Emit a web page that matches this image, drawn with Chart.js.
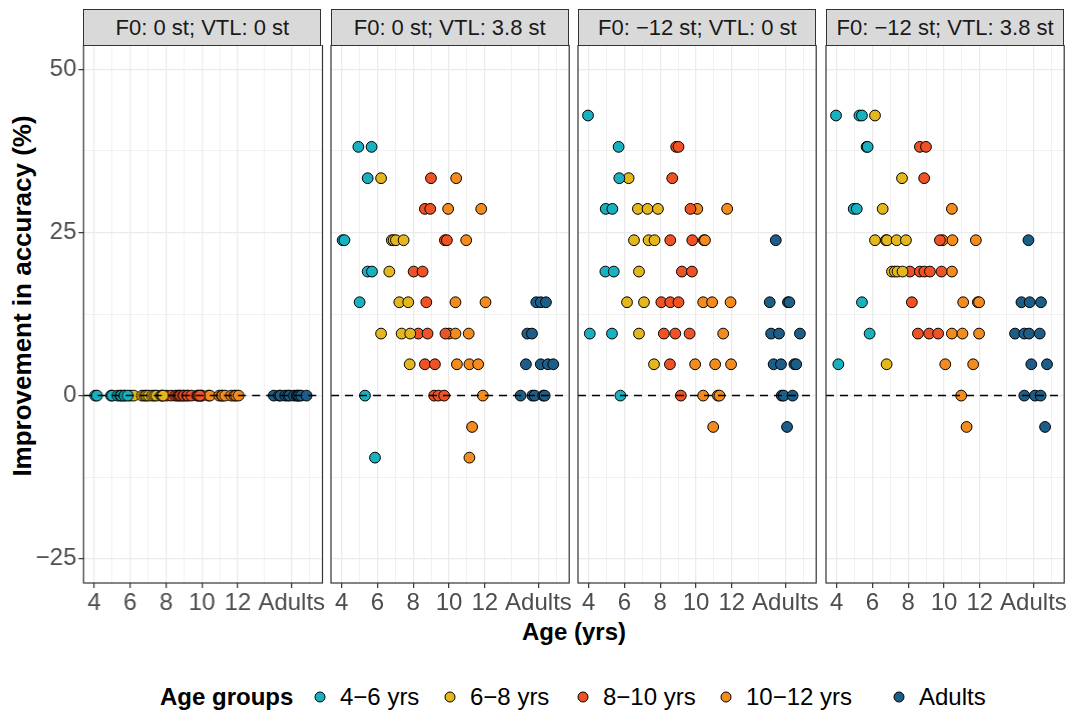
<!DOCTYPE html>
<html>
<head>
<meta charset="utf-8">
<script src="https://cdn.jsdelivr.net/npm/chart.js@4"></script>
<style>
  body { margin: 0; background: #fff; font-family: "Liberation Sans", Arial, sans-serif; }
  #wrap { position: relative; width: 1069px; height: 712px; overflow: hidden; }
  .panel { position: absolute; top: 45px; height: 580px; }
  .strip { position: absolute; top: 9px; height: 37px; background: #d9d9d9; border: 1.2px solid #333;
           box-sizing: border-box; font-size: 22px; color: #1a1a1a; text-align: center; line-height: 35px; white-space: nowrap; }
  #ytitle { position: absolute; left: 22px; top: 296px; transform: translate(-50%, -50%) rotate(-90deg);
            font-weight: bold; font-size: 26px; white-space: nowrap; }
  #xtitle { position: absolute; left: 574px; top: 632px; transform: translate(-50%, -50%);
            font-weight: bold; font-size: 24px; white-space: nowrap; }
  .leg { position: absolute; top: 697px; transform: translateY(-50%); font-size: 24px; white-space: nowrap; color: #000; }
  .key { position: absolute; top: 697px; width: 9px; height: 9px; border-radius: 50%; border: 1px solid #000;
         transform: translate(-50%, -50%); }
</style>
</head>
<body>
<div id="wrap">
  <div id="ytitle">Improvement in accuracy (%)</div>
  <div id="xtitle">Age (yrs)</div>
</div>
<script>
// facets
const facets = ["F0: 0 st; VTL: 0 st", "F0: 0 st; VTL: 3.8 st", "F0: \u221212 st; VTL: 0 st", "F0: \u221212 st; VTL: 3.8 st"];
const groups = ["4\u22126 yrs", "6\u22128 yrs", "8\u221210 yrs", "10\u221212 yrs", "Adults"];
const groupColors = ["#19b1bf", "#e4b71f", "#ef5224", "#f38b1f", "#1c5e87"];

const xTickVals = [4, 5, 6, 7, 8, 9, 10, 11, 12, 13.5, 15, 16];
const xTickLabels = ["4", "", "6", "", "8", "", "10", "", "12", "", "Adults", ""];
const yTickVals = [-25, -12.5, 0, 12.5, 25, 37.5, 50];
const yTickLabels = ["\u221225", "", "0", "", "25", "", "50"];

// F0: 0 st; VTL: 0 st  (everyone at 0) -- ages per group
const base_4to6   = [4.05, 4.15, 4.93, 5.0, 5.3, 5.45, 5.5, 5.67, 5.69, 5.86];
const base_6to8   = [6.0, 6.2, 6.66, 6.8, 6.9, 7.03, 7.22, 7.35, 7.46, 7.72, 7.8, 7.83];
const base_8to10  = [8.02, 8.28, 8.52, 8.65, 8.73, 8.8, 8.95, 8.99, 9.17, 9.21, 9.41, 9.73, 9.8, 9.88];
const base_10to12 = [9.95, 10.0, 10.36, 10.44, 10.96, 11.1, 11.14, 11.29, 11.63, 11.8, 11.89, 12.04];
const base_adults = [14.0, 14.3, 14.38, 14.64, 14.79, 14.88, 15.13, 15.27, 15.35, 15.42, 15.53, 15.83];

// F0: 0 st; VTL: 3.8 st  [age, improvement]
const vtl_4to6 = [[4.93,38.1],[5.67,38.1],[5.45,33.3],[4.05,23.8],[4.15,23.8],[5.45,19.0],[5.69,19.0],[5.0,14.3],[5.3,0],[5.86,-9.5]];
const vtl_6to8 = [[6.2,33.3],[6.8,23.8],[6.9,23.8],[7.03,23.8],[7.46,23.8],[6.66,19.0],[7.22,14.3],[7.72,14.3],[6.2,9.5],[7.35,9.5],[7.83,9.5],[7.8,4.8]];
const vtl_8to10 = [[8.99,33.3],[8.65,28.6],[8.95,28.6],[9.77,23.8],[9.88,23.8],[8.02,19.0],[8.52,19.0],[8.73,14.3],[8.28,9.5],[8.8,9.5],[9.8,9.5],[8.65,4.8],[9.21,4.8],[9.17,0],[9.41,0],[9.73,0]];
const vtl_10to12 = [[10.4,33.3],[9.95,28.6],[11.8,28.6],[10.96,23.8],[10.36,14.3],[12.04,14.3],[10.0,9.5],[10.36,9.5],[11.1,9.5],[10.44,4.8],[11.14,4.8],[11.63,4.8],[11.89,0],[11.29,-4.8],[11.14,-9.5]];
const vtl_adults = [[14.88,14.3],[15.13,14.3],[15.42,14.3],[14.38,9.5],[14.64,9.5],[14.3,4.8],[15.13,4.8],[15.53,4.8],[15.83,4.8],[14.0,0],[14.66,0],[14.79,0],[15.27,0],[15.35,0]];

// F0: -12 st; VTL: 0 st
const f0_4to6 = [[3.96,42.9],[5.67,38.1],[5.71,33.3],[4.95,28.6],[5.32,28.6],[4.93,19.0],[5.4,19.0],[4.06,9.5],[5.3,9.5],[5.77,0]];
const f0_6to8 = [[6.23,33.3],[6.75,28.6],[7.29,28.6],[7.87,28.6],[6.53,23.8],[7.35,23.8],[7.68,23.8],[6.81,19.0],[6.14,14.3],[7.09,14.3],[6.81,9.5],[7.65,4.8]];
const f0_8to10 = [[8.89,38.1],[9.02,38.1],[8.67,33.3],[9.69,28.6],[8.56,23.8],[9.79,23.8],[9.21,19.0],[9.77,19.0],[8.06,14.3],[8.56,14.3],[9.02,14.3],[8.2,9.5],[8.84,9.5],[9.64,9.5],[8.54,4.8],[9.15,0]];
const f0_10to12 = [[10.07,28.6],[11.74,28.6],[10.44,23.8],[10.5,23.8],[10.4,14.3],[10.9,14.3],[11.93,14.3],[11.52,9.5],[9.95,4.8],[11.07,4.8],[11.96,4.8],[10.4,0],[11.22,0],[11.31,0],[10.96,-4.8]];
const f0_adults = [[14.46,23.8],[14.12,14.3],[15.14,14.3],[15.22,14.3],[14.2,9.5],[14.64,9.5],[15.81,9.5],[14.34,4.8],[14.75,4.8],[15.5,4.8],[15.6,4.8],[14.79,0],[14.9,0],[15.4,0],[15.09,-4.8]];

// F0: -12 st; VTL: 3.8 st
const both_4to6 = [[3.96,42.9],[5.27,42.9],[5.41,42.9],[5.67,38.1],[5.73,38.1],[4.95,28.6],[5.12,28.6],[5.41,14.3],[5.84,9.5],[4.09,4.8]];
const both_6to8 = [[6.14,42.9],[7.65,33.3],[6.57,28.6],[6.14,23.8],[6.75,23.8],[6.81,23.8],[7.35,23.8],[7.87,23.8],[7.09,19.0],[7.25,19.0],[7.4,19.0],[7.68,19.0],[6.79,4.8]];
const both_8to10 = [[8.65,38.1],[8.99,38.1],[8.89,33.3],[9.77,23.8],[8.09,19.0],[8.65,19.0],[8.9,19.0],[9.21,19.0],[9.86,19.0],[8.2,14.3],[8.54,9.5],[9.17,9.5],[9.67,9.5]];
const both_10to12 = [[10.44,28.6],[9.92,23.8],[10.47,23.8],[11.78,23.8],[10.44,19.0],[11.07,14.3],[11.89,14.3],[11.96,14.3],[10.44,9.5],[11.03,9.5],[11.96,9.5],[10.07,4.8],[11.63,4.8],[10.96,0],[11.26,-4.8]];
const both_adults = [[14.72,23.8],[14.33,14.3],[14.79,14.3],[15.42,14.3],[13.97,9.5],[14.49,9.5],[14.75,9.5],[15.35,9.5],[14.88,4.8],[15.76,4.8],[14.49,0],[15.09,0],[15.4,0],[15.65,-4.8]];

const toZero = ages => ages.map(a => [a, 0]);
const panels = [
  [toZero(base_4to6), toZero(base_6to8), toZero(base_8to10), toZero(base_10to12), toZero(base_adults)],
  [vtl_4to6, vtl_6to8, vtl_8to10, vtl_10to12, vtl_adults],
  [f0_4to6, f0_6to8, f0_8to10, f0_10to12, f0_adults],
  [both_4to6, both_6to8, both_8to10, both_10to12, both_adults]
];

const X_MIN = 3.4, X_MAX = 16.72, Y_MIN = -28.7, Y_MAX = 53.7;
const panelLefts = [83.3, 330.6, 578.3, 826];
const panelW = 238.2;

// panel border drawn over everything, like ggplot's panel.border
const frame = {
  id: "frame",
  afterDraw(c) {
    const a = c.chartArea, g = c.ctx;
    g.save();
    g.strokeStyle = "#333";
    g.lineWidth = 1.2;
    g.strokeRect(a.left, a.top, a.right - a.left, a.bottom - a.top);
    g.restore();
  }
};

const wrap = document.getElementById("wrap");
const tickFont = { size: 24, family: "Liberation Sans" };

panels.forEach((series, i) => {
  const padL = i === 0 ? panelLefts[0] : 5;
  const div = document.createElement("div");
  div.className = "panel";
  div.style.left = (panelLefts[i] - padL) + "px";
  div.style.width = (padL + panelW + 10) + "px";
  const cv = document.createElement("canvas");
  div.appendChild(cv);
  wrap.appendChild(div);

  const strip = document.createElement("div");
  strip.className = "strip";
  strip.style.left = panelLefts[i] + "px";
  strip.style.width = panelW + "px";
  strip.textContent = facets[i];
  wrap.appendChild(strip);

  const datasets = [{
    type: "line",
    data: [{ x: X_MIN, y: 0 }, { x: X_MAX, y: 0 }],
    borderColor: "#000",
    borderWidth: 1.5,
    borderDash: [8, 6],
    pointRadius: 0,
    order: 0
  }];
  series.forEach((pts, gi) => {
    datasets.push({
      label: groups[gi],
      data: pts.map(p => ({ x: p[0], y: p[1] })),
      backgroundColor: groupColors[gi],
      borderColor: "#000",
      borderWidth: 1,
      pointRadius: 5.4,
      order: 1
    });
  });

  new Chart(cv, {
    type: "scatter",
    data: { datasets },
    plugins: [frame],
    options: {
      responsive: true,
      maintainAspectRatio: false,
      animation: false,
      layout: { autoPadding: false, padding: { left: 0, right: 10, top: 0, bottom: 0 } },
      plugins: { legend: { display: false }, tooltip: { enabled: false } },
      scales: {
        x: {
          type: "linear",
          min: X_MIN,
          max: X_MAX,
          afterFit: s => { s.height = 42; s.paddingLeft = 0; s.paddingRight = 0; s.paddingTop = 0; s.paddingBottom = 0; },
          afterBuildTicks: s => { s.ticks = xTickVals.map(v => ({ value: v })); },
          border: { display: false },
          grid: {
            color: "#ebebeb",
            lineWidth: c => (c.tick && xTickLabels[c.index] !== "" ? 1.3 : 0.7),
            tickLength: 5,
            tickWidth: 1.2,
            tickColor: c => (c.tick && xTickLabels[c.index] !== "" ? "#333" : "rgba(0,0,0,0)")
          },
          ticks: {
            autoSkip: false,
            maxRotation: 0,
            padding: 1,
            color: "#4d4d4d",
            font: tickFont,
            callback: (v, idx) => xTickLabels[idx]
          }
        },
        y: {
          min: Y_MIN,
          max: Y_MAX,
          afterFit: s => { s.width = padL; s.paddingLeft = 0; s.paddingRight = 0; s.paddingTop = 0; s.paddingBottom = 0; },
          afterBuildTicks: s => { s.ticks = yTickVals.map(v => ({ value: v })); },
          border: { display: false },
          grid: {
            color: "#ebebeb",
            lineWidth: c => (c.tick && yTickLabels[c.index] !== "" ? 1.3 : 0.7),
            drawTicks: i === 0,
            tickLength: 5,
            tickWidth: 1.2,
            tickColor: c => (c.tick && yTickLabels[c.index] !== "" ? "#333" : "rgba(0,0,0,0)")
          },
          ticks: {
            display: i === 0,
            padding: 2,
            color: "#4d4d4d",
            font: tickFont,
            callback: (v, idx) => yTickLabels[idx]
          }
        }
      }
    }
  });
});

// legend: title, then key + label per group
const keyCenters = [320, 450, 583, 726, 899];
const title = document.createElement("div");
title.className = "leg";
title.style.left = "160px";
title.style.fontWeight = "bold";
title.textContent = "Age groups";
wrap.appendChild(title);
groups.forEach((g, gi) => {
  const k = document.createElement("div");
  k.className = "key";
  k.style.left = keyCenters[gi] + "px";
  k.style.background = groupColors[gi];
  wrap.appendChild(k);
  const t = document.createElement("div");
  t.className = "leg";
  t.style.left = (keyCenters[gi] + 20) + "px";
  t.textContent = g;
  wrap.appendChild(t);
});
</script>
</body>
</html>
